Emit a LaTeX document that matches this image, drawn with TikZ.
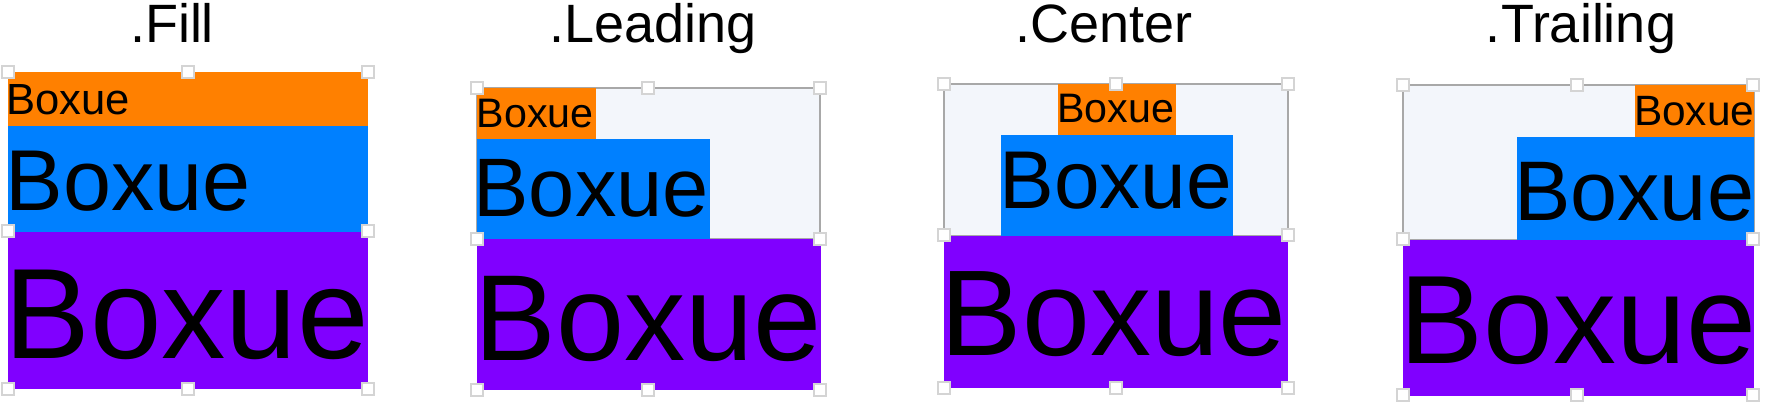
\documentclass[tikz,border=0pt]{standalone}
\usepackage{fontspec}
\setmainfont{Liberation Sans}
\definecolor{orng}{HTML}{FF8000}
\definecolor{blu}{HTML}{0080FF}
\definecolor{purp}{HTML}{8000FF}
\definecolor{bgc}{HTML}{F3F6FB}
\definecolor{bordc}{HTML}{A8A8A8}
\definecolor{handc}{HTML}{D4D4D4}
\newcommand{\fsz}[1]{\fontsize{#1}{#1}\selectfont}
\tikzset{
  lbl/.style={inner sep=0pt, anchor=base west, text=black},
  ttl/.style={inner sep=0pt, anchor=base, text=black, font=\fsz{27pt}},
  frame/.style={fill=bgc, draw=bordc, line width=0.75pt},
  hnd/.style={fill=white, draw=handc, line width=1pt},
}
\newcommand{\handle}[2]{\draw[hnd] (#1-6,#2-6) rectangle (#1+6,#2+6);}
\begin{document}
\begin{tikzpicture}[x=0.5pt,y=-0.5pt]
\useasboundingbox (0,0) rectangle (1770,412);
% ---------- Fill ----------
\node[ttl] (t1) at (172,42) {.Fill};
\fill[orng] (8,72) rectangle (368,126);
\fill[blu] (8,126) rectangle (368,232);
\fill[purp] (8,232) rectangle (368,389);
\node[lbl, font=\fsz{21.8pt}] (f1) at (6.1,114.3) {Boxue};
\node[lbl, font=\fsz{43.2pt}] (f2) at (5.4,210) {Boxue};
\node[lbl, font=\fsz{64.3pt}] (f3) at (3.9,358) {Boxue};
\handle{8}{72}\handle{188}{72}\handle{368}{72}
\handle{8}{231}\handle{368}{231}
\handle{8}{389}\handle{188}{389}\handle{368}{389}
% ---------- Leading ----------
\node[ttl] (t2) at (653,42) {.Leading};
\draw[frame] (477,88) rectangle (820,239);
\fill[orng] (477,88) rectangle (596,139);
\fill[blu] (477,139) rectangle (710,239);
\fill[purp] (477,239) rectangle (821,390);
\node[lbl, font=\fsz{20.6pt}] (l1) at (476.3,127.7) {Boxue};
\node[lbl, font=\fsz{41.5pt}] (l2) at (473.2,216.7) {Boxue};
\node[lbl, font=\fsz{61.2pt}] (l3) at (474.4,360) {Boxue};
\handle{477}{88}\handle{648}{88}\handle{820}{88}
\handle{477}{239}\handle{820}{239}
\handle{477}{390}\handle{648}{390}\handle{820}{390}
% ---------- Center ----------
\node[ttl] (t3) at (1104,42) {.Center};
\draw[frame] (944,84) rectangle (1288,236);
\fill[orng] (1058,84) rectangle (1176,135);
\fill[blu] (1001,135) rectangle (1233,236);
\fill[purp] (944,236) rectangle (1288,388);
\node[lbl, font=\fsz{20.6pt}] (c1) at (1057,122.7) {Boxue};
\node[lbl, font=\fsz{41pt}] (c2) at (999,208.3) {Boxue};
\node[lbl, font=\fsz{61pt}] (c3) at (940.4,355) {Boxue};
\handle{944}{84}\handle{1116}{84}\handle{1288}{84}
\handle{944}{235}\handle{1288}{235}
\handle{944}{388}\handle{1116}{388}\handle{1288}{388}
% ---------- Trailing ----------
\node[ttl] (t4) at (1581,42) {.Trailing};
\draw[frame] (1403,85) rectangle (1754,240);
\fill[orng] (1635,85) rectangle (1754,137);
\fill[blu] (1517,137) rectangle (1754,240);
\fill[purp] (1403,240) rectangle (1754,396);
\node[lbl, font=\fsz{21.2pt}] (r1) at (1633.6,125) {Boxue};
\node[lbl, font=\fsz{42.3pt}] (r2) at (1513.8,220) {Boxue};
\node[lbl, font=\fsz{62.9pt}] (r3) at (1399.1,363) {Boxue};
\handle{1403}{85}\handle{1577}{85}\handle{1753}{85}
\handle{1403}{239}\handle{1753}{239}
\handle{1403}{395}\handle{1577}{395}\handle{1753}{395}
\end{tikzpicture}
\end{document}
